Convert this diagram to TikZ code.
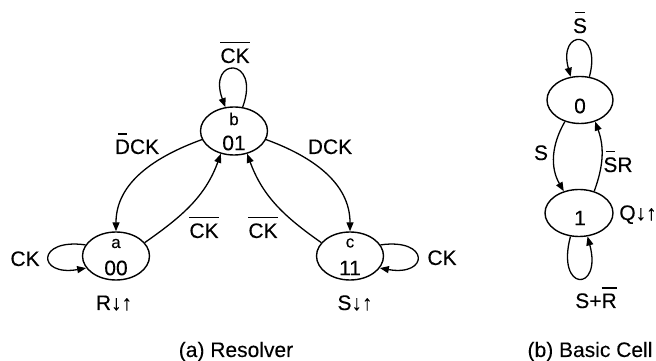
\documentclass[tikz,border=0pt]{standalone}
\usepackage{fontspec}
\setmainfont{Liberation Sans}[BoldFont={Liberation Sans},BoldFeatures={FakeBold=0.12}]
\usetikzlibrary{arrows.meta,shapes.geometric}
\newcommand\ob[2][1]{\leavevmode\vbox{\setbox0=\hbox{#2}\hbox to\wd0{\hss\vrule height 1.3pt depth 0pt width #1\wd0\hss}\nointerlineskip\kern 5pt\box0}}
\begin{document}
\begin{tikzpicture}[x=1pt,y=1pt,
  st/.style={ellipse,draw,line width=1.4pt,minimum width=67pt,minimum height=48pt,inner sep=0pt},
  lab/.style={font=\bfseries\fontsize{21}{21}\selectfont,inner sep=0pt,anchor=base},
  dig/.style={font=\bfseries\fontsize{21}{21}\selectfont,inner sep=0pt},
  sml/.style={font=\bfseries\fontsize{17}{17}\selectfont,inner sep=0pt},
  edge/.style={line width=1.3pt,-{Triangle[length=9pt,width=7pt]}}]
\useasboundingbox (0,0) rectangle (656,361);
% Resolver states
\node[st] (a) at (116,105) {};
\node[st] (b) at (234,230) {};
\node[st] (c) at (350,105) {};
\node[sml] (ta) at (116,117.5) {a};
\node[sml] (tb) at (234,242) {b};
\node[sml] (tc) at (350,118) {c};
\node[dig] (da) at (116,93) {00};
\node[dig] (db) at (234,218) {01};
\node[dig] (dc) at (350,93) {11};
% Resolver edges
\draw[edge] (b.195) to[out=200,in=90] (a.90);
\draw[edge] (a.25) to[out=35,in=250] (b.240);
\draw[edge] (b.-15) to[out=-20,in=90] (c.90);
\draw[edge] (c.155) to[out=145,in=-70] (b.300);
\draw[edge] (b.70) .. controls +(70:54) and +(110:54) .. (b.110);
\draw[edge] (a.160) .. controls +(172:50) and +(190:50) .. (a.202);
\draw[edge] (c.20) .. controls +(8:50) and +(-10:50) .. (c.-22);
% Resolver labels
\node[lab] (lbtop) at (235,298) {\ob{CK}};
\node[lab] (ldbar) at (137,207) {\ob[0.6]{D}CK};
\node[lab] (ld) at (330,207) {DCK};
\node[lab] (lab) at (204,123) {\ob{CK}};
\node[lab] (lcb) at (263,123) {\ob{CK}};
\node[lab] (lcka) at (25,95) {CK};
\node[lab] (lckc) at (442,96) {CK};
\node[lab] (lr) at (114,51) {R↓↑};
\node[lab] (ls) at (355,51) {S↓↑};
\node[lab] (lres) at (236,4) {(a) Resolver};
% Basic cell
\node[st,minimum width=66pt,minimum height=47pt] (n0) at (580,261) {};
\node[st,minimum width=68pt,minimum height=47pt] (n1) at (579,148) {};
\node[dig] (d0) at (580,255) {0};
\node[dig] (d1) at (580,143) {1};
\draw[edge] (n0.68) .. controls +(75:50) and +(105:50) .. (n0.112);
\draw[edge] (n1.250) .. controls +(255:58) and +(285:58) .. (n1.290);
\draw[edge] (n0.235) to[out=240,in=120] (n1.125);
\draw[edge] (n1.55) to[out=70,in=-70] (n0.-55);
\node[lab] (lsb) at (580,328) {\ob[0.65]{S}};
\node[lab] (lsx) at (541,201) {S};
\node[lab] (lsr) at (618,189) {\ob[0.65]{S}R};
\node[lab] (lq) at (638,141) {Q↓↑};
\node[lab] (lsr2) at (596,53) {S+\ob{R}};
\node[lab] (lbc) at (590,4) {(b) Basic Cell};
\end{tikzpicture}
\end{document}
